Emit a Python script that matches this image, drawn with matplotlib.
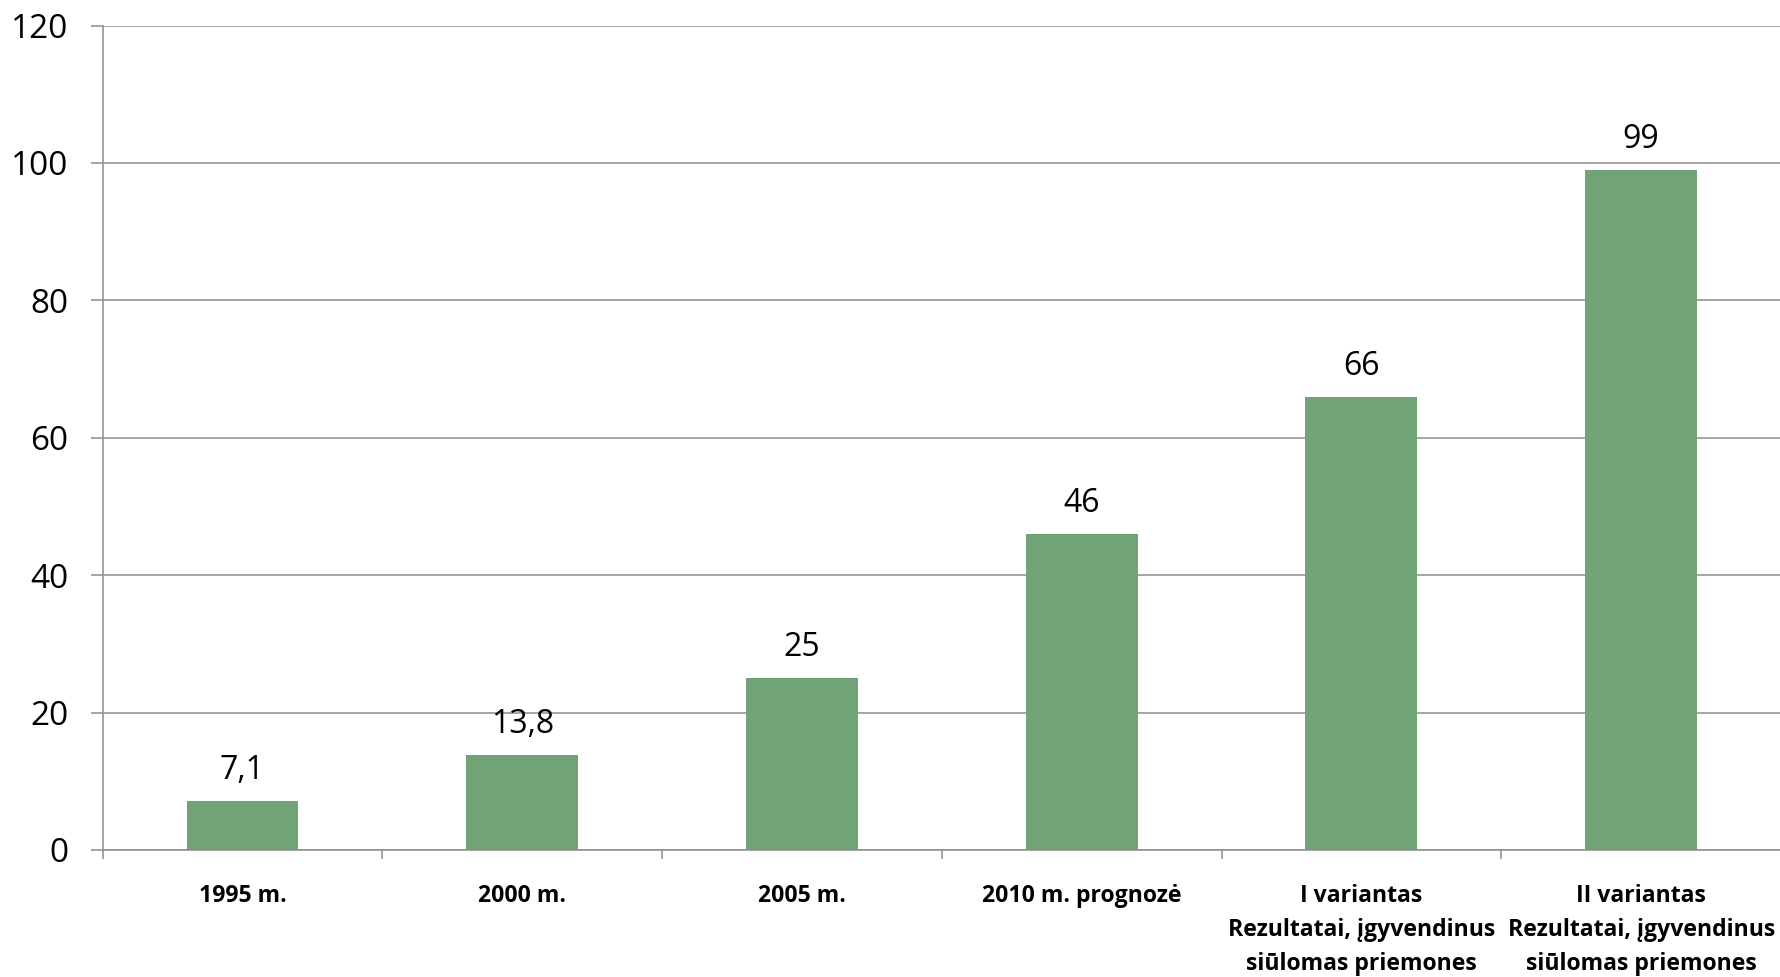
import matplotlib.pyplot as plt
import numpy as np

plt.rcParams['font.family'] = ['Open Sans', 'DejaVu Sans']

BAR_COLOR = "#72a377"
GRID_COLOR = "#8c8c8c"

categories = ["1995 m.", "2000 m.", "2005 m.", "2010 m. prognozė",
              "I variantas\nRezultatai, įgyvendinus\nsiūlomas priemones",
              "II variantas\nRezultatai, įgyvendinus\nsiūlomas priemones"]
values = [7.1, 13.8, 25, 46, 66, 99]
y_ticks = [0, 20, 40, 60, 80, 100, 120]

fig = plt.figure(figsize=(17.81, 9.77), dpi=100)
ax = fig.add_axes([0.0576, 0.130, 0.9424, 0.8438])

x = np.arange(len(categories))
bars = ax.bar(x, values, width=0.4, color=BAR_COLOR, zorder=3)

# value labels above each bar, decimal comma
for xi, v in zip(x, values):
    txt = ("%g" % v).replace(".", ",")
    ax.annotate(txt, (xi, v), xytext=(0, 10), textcoords="offset points",
                ha="center", va="bottom", fontsize=23, color="black")

ax.set_xlim(-0.5, len(categories) - 0.5)
ax.set_ylim(0, 120)
ax.set_yticks(y_ticks)
ax.yaxis.grid(True, color=GRID_COLOR, linewidth=1.1, zorder=0)

# category labels centered, ticks between categories (excel style)
ax.set_xticks(x)
ax.set_xticklabels(categories, fontsize=16.6, fontweight="bold", linespacing=1.55)
ax.set_xticks(np.arange(-0.5, len(categories), 1), minor=True)
ax.tick_params(axis="x", which="major", length=0, pad=24.5)
ax.tick_params(axis="x", which="minor", length=6.5, width=1.1, color=GRID_COLOR)
ax.tick_params(axis="y", length=8.6, width=1.1, color=GRID_COLOR, labelsize=24, pad=16)

for s in ["top", "right"]:
    ax.spines[s].set_visible(False)
ax.spines["left"].set_color(GRID_COLOR)
ax.spines["left"].set_linewidth(1.1)
ax.spines["bottom"].set_color(GRID_COLOR)
ax.spines["bottom"].set_linewidth(1.1)
ax.spines["bottom"].set_zorder(4)

fig.savefig("out.png", dpi=100)
